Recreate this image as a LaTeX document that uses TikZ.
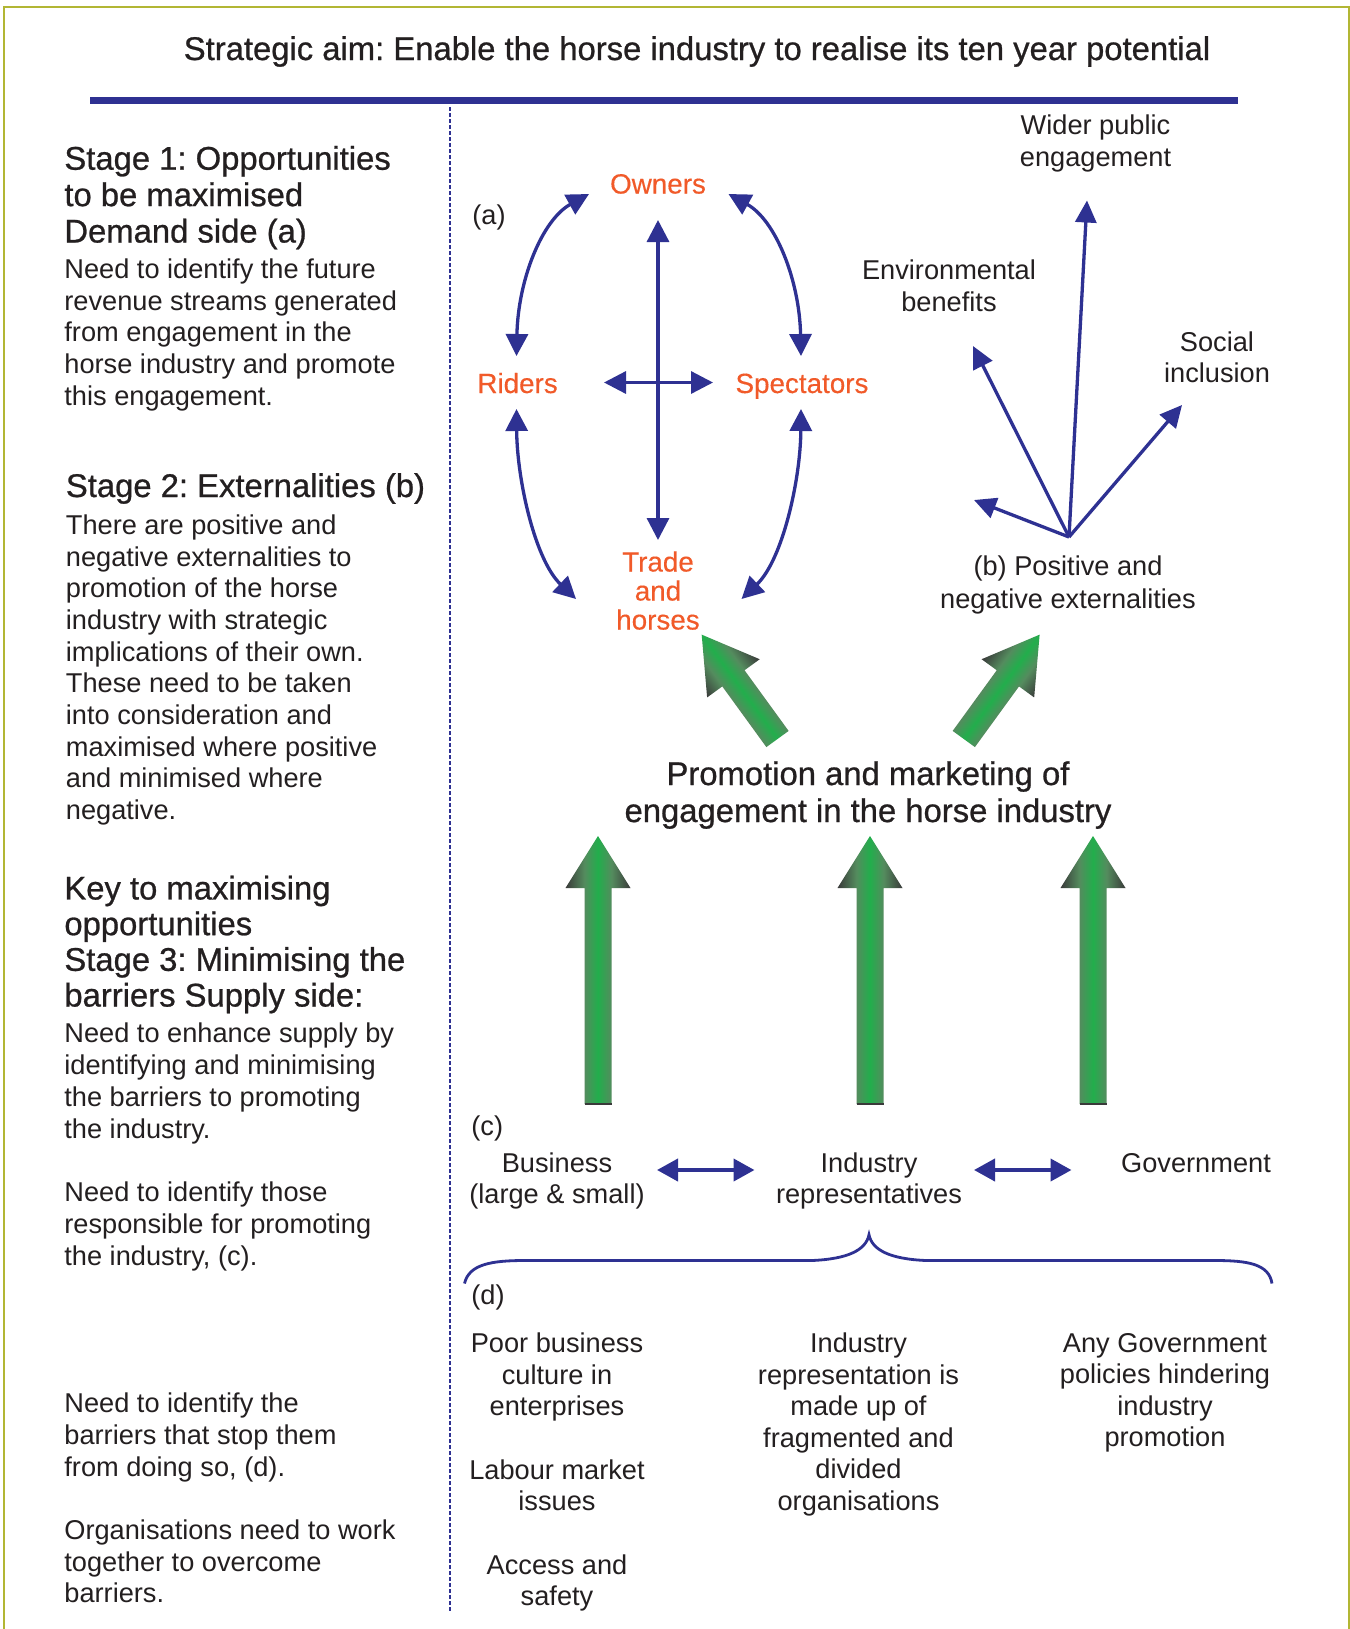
\documentclass[tikz,border=0pt]{standalone}
\usepackage{fontspec}
\setmainfont{Liberation Sans}
\newfontfamily\medfont[FakeBold=0.75]{Liberation Sans}
\newfontfamily\semifont[FakeBold=0.3]{Liberation Sans}
\frenchspacing
\usetikzlibrary{arrows.meta}
\definecolor{navy}{RGB}{46,49,146}
\definecolor{ink}{RGB}{35,31,32}
\definecolor{flame}{RGB}{241,90,41}
\definecolor{olive}{RGB}{178,182,52}
\definecolor{leaf}{RGB}{34,174,76}
\definecolor{leafedge}{RGB}{84,140,94}
\definecolor{shadow}{RGB}{58,58,58}

% dark edges, muted green at the shaft edges, bright green on the axis
\pgfdeclarehorizontalshading{leafshade}{100bp}{%
  color(0bp)=(shadow); color(25bp)=(shadow); color(39.6bp)=(leafedge);
  color(50bp)=(leaf); color(60.4bp)=(leafedge); color(75bp)=(shadow); color(100bp)=(shadow)}

% upright fat arrow: tail centre (#1,#2), length #3, head length #4, head half width #5, shaft half width #6
\newcommand{\fatarrowpath}[6]{%
  (#1-#6,#2) -- (#1-#6,#2-#3+#4) -- (#1-#5,#2-#3+#4) -- (#1,#2-#3)
  -- (#1+#5,#2-#3+#4) -- (#1+#6,#2-#3+#4) -- (#1+#6,#2) -- cycle}

\begin{document}
\begin{tikzpicture}[x=0.5pt,y=-0.5pt,
  body/.style={text=ink, inner sep=0pt, font=\fontsize{13.6}{15.9}\selectfont},
  head/.style={text=ink, inner sep=0pt, font=\medfont\fontsize{16.4}{18.2}\selectfont},
  redlabel/.style={text=flame, inner sep=0pt, align=center, font=\semifont\fontsize{13.9}{14.5}\selectfont},
  link/.style={navy, line width=1.65pt, {Triangle[length=11pt,width=11pt]}-{Triangle[length=11pt,width=11pt]}},
  ray/.style={navy, line width=1.65pt, -{Triangle[length=11pt,width=10.5pt]}},
  fatlink/.style={navy, line width=2pt, {Triangle[length=10.5pt,width=11pt]}-{Triangle[length=10.5pt,width=11pt]}},
  greenarrow/.style={shading=leafshade}
]
\useasboundingbox (0,0) rectangle (1350,1629);
\fill[white] (0,0) rectangle (1350,1629);

% frame and separators
\draw[olive, line width=1pt] (4,1629) -- (4,7) -- (1348.5,7) -- (1348.5,1629);
\draw[navy, line width=3.5pt] (90,100) -- (1238,100);
\draw[navy, line width=0.7pt, dash pattern=on 2pt off 1pt] (450,107) -- (450,1611);

% title
\node[head, anchor=base] (title) at (697,60)
  {Strategic aim: Enable the horse industry to realise its ten year potential};

% left column (each node is anchored at the baseline of its last line)
\node[head, anchor=base west, align=left] (h1) at (64,242.5)
  {Stage 1: Opportunities\\to be maximised\\Demand side (a)};
\node[body, anchor=base west, align=left] (b1) at (64,405.5)
  {Need to identify the future\\revenue streams generated\\from engagement in the\\horse industry and promote\\this engagement.};
\node[head, anchor=base west, align=left] (h2) at (65.5,497)
  {Stage 2: Externalities (b)};
\node[body, anchor=base west, align=left, font=\fontsize{13.6}{15.82}\selectfont] (b2) at (65.5,819.3)
  {There are positive and\\negative externalities to\\promotion of the horse\\industry with strategic\\implications of their own.\\These need to be taken\\into consideration and\\maximised where positive\\and minimised where\\negative.};
\node[head, anchor=base west, align=left, font=\medfont\fontsize{16.4}{17.84}\selectfont] (h3) at (64,1006.5)
  {Key to maximising\\opportunities\\Stage 3: Minimising the\\barriers Supply side:};
\node[body, anchor=base west, align=left] (b3) at (64,1138.3)
  {Need to enhance supply by\\identifying and minimising\\the barriers to promoting\\the industry.};
\node[body, anchor=base west, align=left] (b4) at (64,1265)
  {Need to identify those\\responsible for promoting\\the industry, (c).};
\node[body, anchor=base west, align=left] (b5) at (64,1476)
  {Need to identify the\\barriers that stop them\\from doing so, (d).};
\node[body, anchor=base west, align=left] (b6) at (64,1602.8)
  {Organisations need to work\\together to overcome\\barriers.};

% (a) demand side relations
\node[body, anchor=base west] (tagA) at (472,224.5) {(a)};
\node[redlabel, anchor=base] (owners) at (658,193.5) {Owners};
\node[redlabel, anchor=base] (riders) at (517.6,393) {Riders};
\node[redlabel, anchor=base] (spectators) at (802,393) {Spectators};
\node[redlabel, anchor=base] (trade) at (658,629.5) {Trade\\and\\horses};

\coordinate (ow-n) at (658,220);
\coordinate (tr-n) at (658,540);
\coordinate (mid-w) at (604,382.5);
\coordinate (mid-e) at (713,382.5);
\draw[link] (ow-n) -- (tr-n);
\draw[link] (mid-w) -- (mid-e);

\coordinate (ow-w) at (589,194);
\coordinate (ow-e) at (728.5,194);
\coordinate (ri-n) at (516.5,356);
\coordinate (sp-n) at (801,356);
\coordinate (ri-s) at (516.5,409);
\coordinate (sp-s) at (801,409);
\coordinate (tr-w) at (576,599);
\coordinate (tr-e) at (741.5,599);
\draw[link] (ri-n) .. controls (518,280) and (542,220) .. (ow-w);
\draw[link] (sp-n) .. controls (799.5,280) and (775.5,220) .. (ow-e);
\draw[link] (ri-s) .. controls (517,480) and (535,560) .. (tr-w);
\draw[link] (sp-s) .. controls (800.5,480) and (782.5,560) .. (tr-e);

% (b) externalities
\node[body, anchor=base, align=center, font=\fontsize{13.6}{16}\selectfont] (wider) at (1095.5,166.5) {Wider public\\engagement};
\node[body, anchor=base, align=center, font=\fontsize{13.6}{15.75}\selectfont] (environ) at (949,311) {Environmental\\benefits};
\node[body, anchor=base, align=center, font=\fontsize{13.6}{15.5}\selectfont] (social) at (1217,382.5) {Social\\inclusion};
\node[body, anchor=base, align=center, font=\fontsize{13.6}{16.5}\selectfont] (extern) at (1068,608.5) {(b) Positive and\\negative externalities};

\coordinate (ext) at (1069,537);
\coordinate (to-wider) at (1087,200.5);
\coordinate (to-environ) at (973,346);
\coordinate (to-social) at (1182,405);
\coordinate (to-left) at (974,500);
\draw[ray] (ext) -- (to-wider);
\draw[ray] (ext) -- (to-environ);
\draw[ray] (ext) -- (to-social);
\draw[ray] (ext) -- (to-left);

% promotion and marketing
\node[head, anchor=base, align=center, font=\medfont\fontsize{16.4}{18.5}\selectfont] (promo) at (868,822)
  {Promotion and marketing of\\engagement in the horse industry};

\begin{scope}[transform canvas={rotate around={36:(777.5,739)}}]
  \shade[greenarrow] \fatarrowpath{777.5}{739}{129}{54}{32.5}{13.75};
\end{scope}
\begin{scope}[transform canvas={rotate around={-36:(963.8,739)}}]
  \shade[greenarrow] \fatarrowpath{963.8}{739}{129}{54}{32.5}{13.75};
\end{scope}

\foreach \cx in {598,870,1093}{
  \shade[greenarrow] \fatarrowpath{\cx}{1104}{268}{52}{32.5}{13.5};
  \draw[shadow, line width=0.6pt] (\cx-13.5,1104) -- (\cx+13.5,1104);
}

% (c) who promotes
\node[body, anchor=base west] (tagC) at (471,1135) {(c)};
\node[body, anchor=base, align=center, font=\fontsize{13.6}{15.5}\selectfont] (business) at (557,1203.5) {Business\\(large \& small)};
\node[body, anchor=base, align=center, font=\fontsize{13.6}{15.5}\selectfont] (reps) at (869,1203.5) {Industry\\representatives};
\node[body, anchor=base] (govt) at (1196,1172.5) {Government};

\coordinate (bu-e) at (657,1170);
\coordinate (re-w) at (754.5,1170);
\coordinate (re-e) at (974,1170);
\coordinate (go-w) at (1071.5,1170);
\draw[fatlink] (bu-e) -- (re-w);
\draw[fatlink] (re-e) -- (go-w);

% brace
\coordinate (br-l) at (464.5,1283.5);
\coordinate (br-m) at (869,1234.7);
\coordinate (br-r) at (1272,1283.5);
\draw[navy, line width=1.4pt]
  (br-l) .. controls (469,1264) and (492,1260.5) .. (525,1260.5)
  -- (812,1260.5) .. controls (848,1259) and (866,1250) .. (br-m)
  .. controls (872,1250) and (890,1259) .. (926,1260.5)
  -- (1215,1260.5) .. controls (1248,1260.5) and (1269,1264) .. (br-r);

% (d) barriers
\node[body, anchor=base west] (tagD) at (471,1304.5) {(d)};
\node[body, anchor=base, align=center, font=\fontsize{13.6}{15.75}\selectfont] (poor) at (557,1415.5) {Poor business\\culture in\\enterprises};
\node[body, anchor=base, align=center, font=\fontsize{13.6}{15.75}\selectfont] (labour) at (557,1510.5) {Labour market\\issues};
\node[body, anchor=base, align=center, font=\fontsize{13.6}{15.75}\selectfont] (access) at (557,1605.5) {Access and\\safety};
\node[body, anchor=base, align=center, font=\fontsize{13.6}{15.8}\selectfont] (fragment) at (858.5,1510.5) {Industry\\representation is\\made up of\\fragmented and\\divided\\organisations};
\node[body, anchor=base, align=center, font=\fontsize{13.6}{15.65}\selectfont] (policy) at (1165,1446.5) {Any Government\\policies hindering\\industry\\promotion};
\end{tikzpicture}
\end{document}
